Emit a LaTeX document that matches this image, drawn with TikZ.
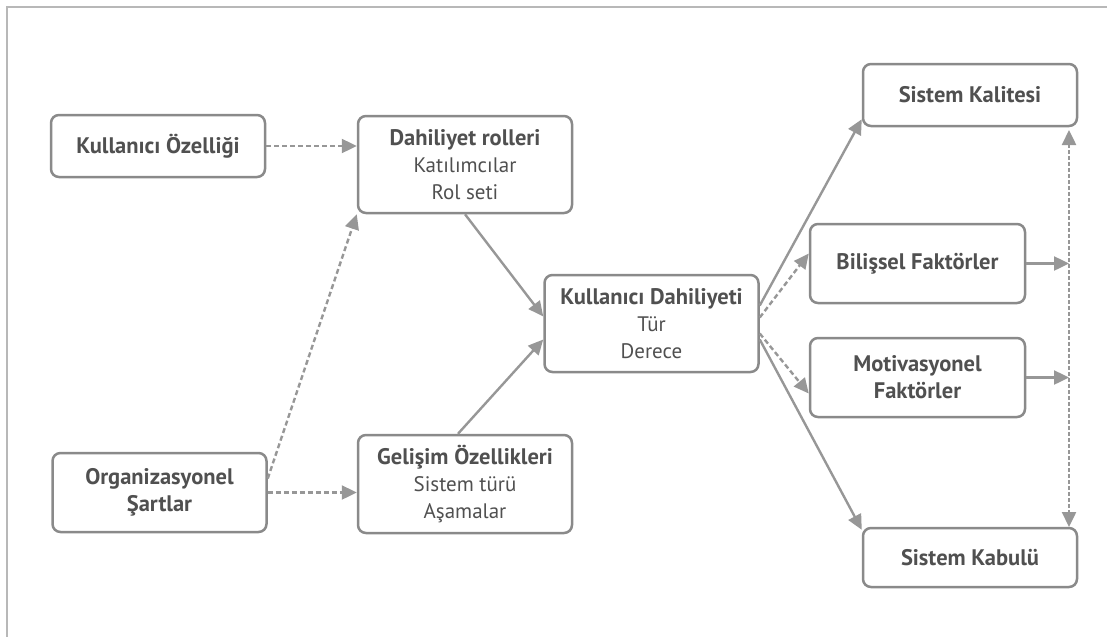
\documentclass[tikz,border=0pt]{standalone}
\usepackage{fontspec}
\setmainfont{PT Sans}
\usepackage{tikz}
\usetikzlibrary{arrows.meta}
\definecolor{boxline}{HTML}{8A8A8A}
\definecolor{arrowgray}{HTML}{979797}
\definecolor{textgray}{HTML}{505050}
\definecolor{framegray}{HTML}{B8B8B8}
\newcommand{\hd}[1]{{\fontsize{22.5}{27}\selectfont\bfseries #1}}
\tikzstyle{block} = [rectangle, draw=boxline, line width=2.5pt, fill=white, text=textgray,
    rounded corners=8pt, minimum width=214pt, align=center, inner sep=0pt,
    font=\fontsize{21}{27}\selectfont]
\tikzstyle{link} = [draw=arrowgray, line width=2.4pt, ->]
\tikzstyle{dlink} = [link, dash pattern=on 5pt off 3pt]

\begin{document}
\begin{tikzpicture}[x=1pt, y=-1pt, >={Triangle[length=15pt,width=14pt]}]
	\useasboundingbox (0,0) rectangle (1107,637);
	% Frame
	\draw[framegray, line width=2.5pt] (1107,7) -- (7,7) -- (7,637);

	% Place nodes
	\node [block, minimum height=62pt] at (158,146) (ko) {\hd{Kullanıcı Özelliği}};
	\node [block, minimum height=97pt] at (465,164.5) (dr) {\hd{Dahiliyet rolleri}\\Katılımcılar\\Rol seti};
	\node [block, minimum height=97pt] at (651.5,323.5) (kd) {\hd{Kullanıcı Dahiliyeti}\\Tür\\Derece};
	\node [block, minimum height=79pt] at (159.5,492.5) (os) {\hd{Organizasyonel}\\\hd{Şartlar}};
	\node [block, minimum height=98pt] at (465,484) (ge) {\hd{Gelişim Özellikleri}\\Sistem türü\\Aşamalar};

	\node [block, minimum height=62pt] at (970,95) (sk) {\hd{Sistem Kalitesi}};
	\node [block, minimum height=79pt, minimum width=215pt] at (917.5,263.5) (bf) {\hd{Bilişsel Faktörler}};
	\node [block, minimum height=79pt, minimum width=215pt] at (917.5,377.5) (mf) {\hd{Motivasyonel}\\\hd{Faktörler}};
	\node [block, minimum height=59pt] at (970,557.5) (sb) {\hd{Sistem Kabulü}};

	\coordinate (vtop) at (1069,130);
	\coordinate (vbot) at (1069,527);

	% Left side
	\draw[dlink](ko.east)--(ko.east -| dr.west);
	\draw[dlink](os.east)--(os.east -| ge.west);
	\draw[dlink]([yshift=14pt]os.east)--(dr.south west);

	\draw[link](dr.south)--([yshift=7pt]kd.west);
	\draw[link]([xshift=-7pt]ge.north)--([yshift=-16pt]kd.west);

	% Right side
	\draw[link]([yshift=18pt]kd.east)--([yshift=8pt]sk.south west);
	\draw[dlink]([yshift=6pt]kd.east)--([yshift=10pt]bf.west);
	\draw[dlink]([yshift=-10pt]kd.east)--([yshift=-16pt]mf.west);
	\draw[link]([yshift=-16pt]kd.east)--([yshift=-3pt]sb.north west);

	\draw[link](bf.east)--(bf.east -| vtop);
	\draw[link](mf.east)--(mf.east -| vtop);
	\draw[dlink, <->, dash pattern=on 4pt off 2pt](vtop)--(vbot);
\end{tikzpicture}
\end{document}
